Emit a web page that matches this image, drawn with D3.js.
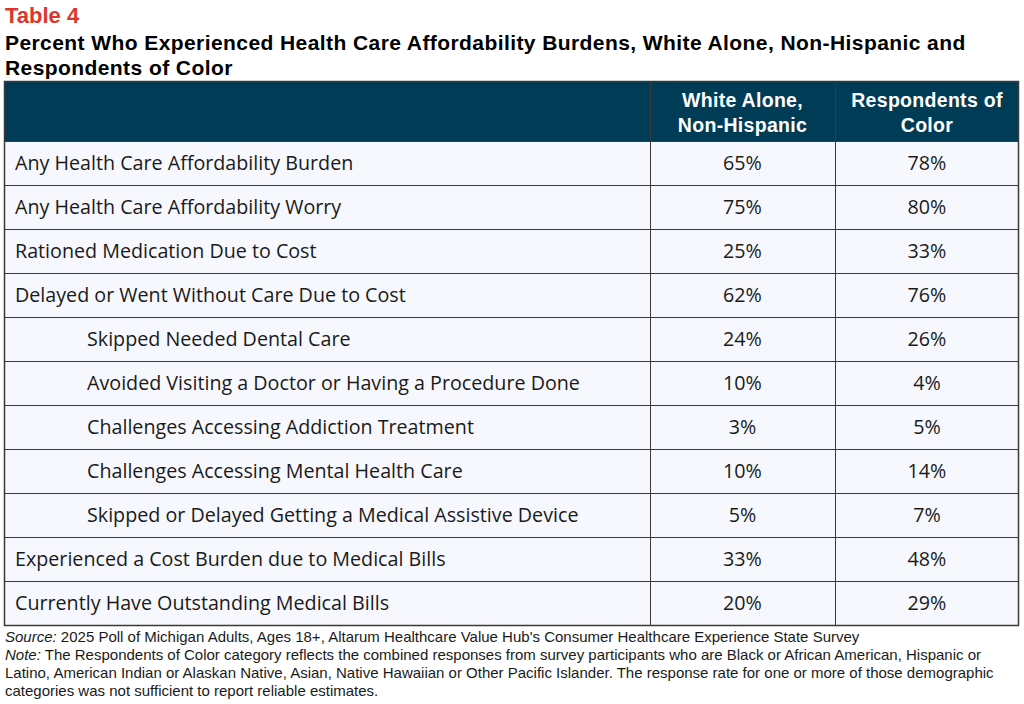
<!DOCTYPE html>
<html>
<head>
<meta charset="utf-8">
<script src="https://cdn.jsdelivr.net/npm/d3@7"></script>
<style>
  body { margin: 0; background: #fff; }
  svg { display: block; }
</style>
</head>
<body>
<script>
// table values
var rowLabels = [
  "Any Health Care Affordability Burden",
  "Any Health Care Affordability Worry",
  "Rationed Medication Due to Cost",
  "Delayed or Went Without Care Due to Cost",
  "Skipped Needed Dental Care",
  "Avoided Visiting a Doctor or Having a Procedure Done",
  "Challenges Accessing Addiction Treatment",
  "Challenges Accessing Mental Health Care",
  "Skipped or Delayed Getting a Medical Assistive Device",
  "Experienced a Cost Burden due to Medical Bills",
  "Currently Have Outstanding Medical Bills"
];
var indented = [false, false, false, false, true, true, true, true, true, false, false];
var whiteAlone = [65, 75, 25, 62, 24, 10, 3, 10, 5, 33, 20];
var ofColor = [78, 80, 33, 76, 26, 4, 5, 14, 7, 48, 29];
var columnHeads = [["White Alone,", "Non-Hispanic"], ["Respondents of", "Color"]];

drawTable();

function drawTable(){

    var width = 1024,
        height = 704;

    var svg = d3.select("body")
        .append("svg")
        .attr("width", width)
        .attr("height", height);

    var tLeft = 4, tRight = 1019, tTop = 81, headH = 60, tBottom = 625;
    var col1 = 650, col2 = 835;
    var boldFont = "Liberation Sans, Arial, sans-serif";
    var bodyFont = "Open Sans, sans-serif";
    var noteFont = "Liberation Sans, Arial, sans-serif";

    //title
    svg.append("text")
        .attr("x", 5).attr("y", 23)
        .attr("font-family", boldFont)
        .attr("font-weight", "bold")
        .attr("font-size", 22)
        .attr("fill", "#d9372b")
        .text("Table 4");

    var titleLines = ["Percent Who Experienced Health Care Affordability Burdens, White Alone, Non-Hispanic and",
                      "Respondents of Color"];
    svg.selectAll(".title")
        .data(titleLines)
        .enter()
        .append("text")
        .attr("class", "title")
        .attr("x", 5)
        .attr("y", function(d, i){ return 50 + i * 25; })
        .attr("font-family", boldFont)
        .attr("font-weight", "bold")
        .attr("font-size", 21)
        .attr("letter-spacing", 0.42)
        .attr("fill", "#000")
        .text(function(d){ return d; });

    //header block
    svg.append("rect")
        .attr("x", tLeft).attr("y", tTop)
        .attr("width", tRight - tLeft).attr("height", headH)
        .attr("fill", "#003c56");

    var colX = [(col1 + col2) / 2, (col2 + tRight) / 2];
    columnHeads.forEach(function(lines, c){
        svg.selectAll(".head" + c)
            .data(lines)
            .enter()
            .append("text")
            .attr("x", colX[c])
            .attr("y", function(d, i){ return tTop + 26 + i * 25; })
            .attr("text-anchor", "middle")
            .attr("font-family", boldFont)
            .attr("font-weight", "bold")
            .attr("font-size", 19.5)
            .attr("letter-spacing", 0.3)
            .attr("fill", "#fff")
            .text(function(d){ return d; });
    });

    //rows
    var y = d3.scaleBand()
        .domain(d3.range(rowLabels.length))
        .range([tTop + headH, tBottom]);

    var rows = svg.selectAll(".row")
        .data(rowLabels)
        .enter()
        .append("g")
        .attr("class", "row")
        .attr("transform", function(d, i){ return "translate(0," + y(i) + ")"; });

    rows.append("rect")
        .attr("x", tLeft).attr("width", tRight - tLeft)
        .attr("height", y.bandwidth())
        .attr("fill", "#f7f8fd");

    rows.append("text")
        .attr("x", function(d, i){ return indented[i] ? 87 : 15; })
        .attr("y", y.bandwidth() / 2 + 7)
        .attr("font-family", bodyFont)
        .attr("font-size", 19.7)
        .attr("fill", "#1a1a1a")
        .text(function(d){ return d; });

    rows.append("text")
        .attr("x", colX[0])
        .attr("y", y.bandwidth() / 2 + 7)
        .attr("text-anchor", "middle")
        .attr("font-family", bodyFont)
        .attr("font-size", 19.7)
        .attr("fill", "#1a1a1a")
        .text(function(d, i){ return whiteAlone[i] + "%"; });

    rows.append("text")
        .attr("x", colX[1])
        .attr("y", y.bandwidth() / 2 + 7)
        .attr("text-anchor", "middle")
        .attr("font-family", bodyFont)
        .attr("font-size", 19.7)
        .attr("fill", "#1a1a1a")
        .text(function(d, i){ return ofColor[i] + "%"; });

    //grid lines
    var lineColor = "#3a3a3a";
    svg.selectAll(".hline")
        .data(d3.range(1, rowLabels.length))
        .enter()
        .append("line")
        .attr("x1", tLeft).attr("x2", tRight)
        .attr("y1", function(i){ return y(i) + 0.5; })
        .attr("y2", function(i){ return y(i) + 0.5; })
        .attr("stroke", lineColor)
        .attr("stroke-width", 1);

    svg.selectAll(".vline")
        .data([col1, col2])
        .enter()
        .append("line")
        .attr("x1", function(d){ return d + 0.5; })
        .attr("x2", function(d){ return d + 0.5; })
        .attr("y1", tTop).attr("y2", tBottom)
        .attr("stroke", lineColor)
        .attr("stroke-width", 1);

    svg.append("line")
        .attr("x1", tLeft).attr("x2", tRight)
        .attr("y1", tTop + headH + 0.5).attr("y2", tTop + headH + 0.5)
        .attr("stroke", lineColor);

    svg.append("rect")
        .attr("x", tLeft + 0.5).attr("y", tTop + 0.5)
        .attr("width", tRight - tLeft - 1).attr("height", tBottom - tTop)
        .attr("fill", "none")
        .attr("stroke", lineColor)
        .attr("stroke-width", 1.5);

    //footnotes
    var notes = [
      [["Source:", true], [" 2025 Poll of Michigan Adults, Ages 18+, Altarum Healthcare Value Hub's Consumer Healthcare Experience State Survey", false]],
      [["Note:", true], [" The Respondents of Color category reflects the combined responses from survey participants who are Black or African American, Hispanic or", false]],
      [["Latino, American Indian or Alaskan Native, Asian, Native Hawaiian or Other Pacific Islander. The response rate for one or more of those demographic", false]],
      [["categories was not sufficient to report reliable estimates.", false]]
    ];

    notes.forEach(function(parts, i){
        var t = svg.append("text")
            .attr("x", 5)
            .attr("y", 642 + i * 18)
            .attr("font-family", noteFont)
            .attr("font-size", 15)
            .attr("fill", "#1a1a1a");
        parts.forEach(function(p){
            t.append("tspan")
                .attr("font-style", p[1] ? "italic" : "normal")
                .text(p[0]);
        });
    });
}
</script>
</body>
</html>
